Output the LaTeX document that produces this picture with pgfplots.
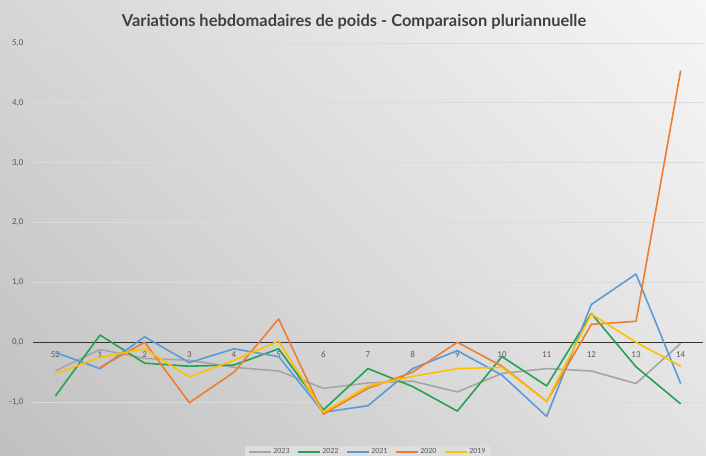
\documentclass[border=0pt]{standalone}
\usepackage{fontspec}
\setmainfont{Carlito}
\newfontfamily\titlefont{Lato}
\usepackage{pgfplots}
\usetikzlibrary{shadings}
\pgfplotsset{compat=1.18}
\definecolor{c2023}{HTML}{A5A5A5}
\definecolor{c2022}{HTML}{25A152}
\definecolor{c2021}{HTML}{5B9BD5}
\definecolor{c2020}{HTML}{ED7D31}
\definecolor{c2019}{HTML}{FFC000}
\definecolor{txt}{HTML}{595959}
\definecolor{bgul}{HTML}{D6D6D6}
\definecolor{bgur}{HTML}{F6F6F6}
\definecolor{bgll}{HTML}{C0C0C0}
\definecolor{bglr}{HTML}{E2E2E2}
\definecolor{legbg}{HTML}{DEDEDE}
\begin{document}
\begin{tikzpicture}
\useasboundingbox (0,0) rectangle (706bp,456bp);
\shade[upper left=bgul, upper right=bgur, lower left=bgll, lower right=bglr]
       (0,0) rectangle (706bp,456bp);
\node[font=\titlefont\bfseries\fontsize{16.5}{20}\selectfont, text=black!75] at (354bp,434bp)
  {Variations hebdomadaires de poids - Comparaison pluriannuelle};
\begin{axis}[
  at={(33bp,12bp)}, anchor=south west, scale only axis,
  width=670bp, height=401bp,
  xmin=-0.5, xmax=14.5, ymin=-1.7, ymax=5,
  axis x line*=middle,
  x axis line style={-, draw=black!80, line width=1.4pt},
  axis y line*=left,
  y axis line style={draw=none},
  xtick={0,...,14},
  xticklabels={52,1,2,3,4,5,6,7,8,9,10,11,12,13,14},
  ytick={-1,0,...,5},
  major tick length=0pt,
  ymajorgrids,
  grid style={draw=black!14, line width=0.8pt},
  xticklabel style={font=\fontsize{9}{10}\selectfont, text=txt, yshift=-6bp},
  yticklabel style={font=\fontsize{9}{10}\selectfont, text=txt, xshift=-6bp},
  /pgf/number format/.cd, use comma, fixed, fixed zerofill, precision=1, assume math mode=true,
  /pgfplots/.cd,
  every axis plot/.append style={line width=1.6pt, mark=none, line join=round},
  legend columns=5,
  legend style={at={(0.5,-0.02)}, anchor=center, fill=legbg, draw=none,
     font=\fontsize{8}{9}\selectfont, text=txt, inner xsep=4pt, inner ysep=1pt,
     /tikz/every even column/.append style={column sep=6pt}},
  legend image code/.code={\draw[#1, line width=1.6pt] (0,0) -- (0.75cm,0);},
]
\addplot[c2023] coordinates {(0,-0.48)(1,-0.12)(2,-0.27)(3,-0.30)(4,-0.42)(5,-0.48)(6,-0.77)(7,-0.68)(8,-0.65)(9,-0.83)(10,-0.52)(11,-0.44)(12,-0.48)(13,-0.69)(14,-0.02)};
\addlegendentry{2023}
\addplot[c2022] coordinates {(0,-0.90)(1,0.12)(2,-0.35)(3,-0.40)(4,-0.38)(5,-0.11)(6,-1.13)(7,-0.44)(8,-0.74)(9,-1.15)(10,-0.24)(11,-0.73)(12,0.48)(13,-0.41)(14,-1.03)};
\addlegendentry{2022}
\addplot[c2021] coordinates {(0,-0.17)(1,-0.44)(2,0.09)(3,-0.34)(4,-0.11)(5,-0.24)(6,-1.17)(7,-1.06)(8,-0.44)(9,-0.14)(10,-0.55)(11,-1.24)(12,0.63)(13,1.14)(14,-0.69)};
\addlegendentry{2021}
\addplot[c2020] coordinates {(1,-0.42)(2,0.00)(3,-1.01)(4,-0.50)(5,0.39)(6,-1.20)(7,-0.77)(8,-0.50)(9,0.00)(10,-0.40)(11,-0.99)(12,0.30)(13,0.35)(14,4.54)};
\addlegendentry{2020}
\addplot[c2019] coordinates {(0,-0.53)(1,-0.25)(2,-0.11)(3,-0.58)(4,-0.30)(5,0.02)(6,-1.17)(7,-0.73)(8,-0.57)(9,-0.44)(10,-0.42)(11,-0.99)(12,0.47)(13,0.00)(14,-0.40)};
\addlegendentry{2019}
\end{axis}
\end{tikzpicture}
\end{document}
